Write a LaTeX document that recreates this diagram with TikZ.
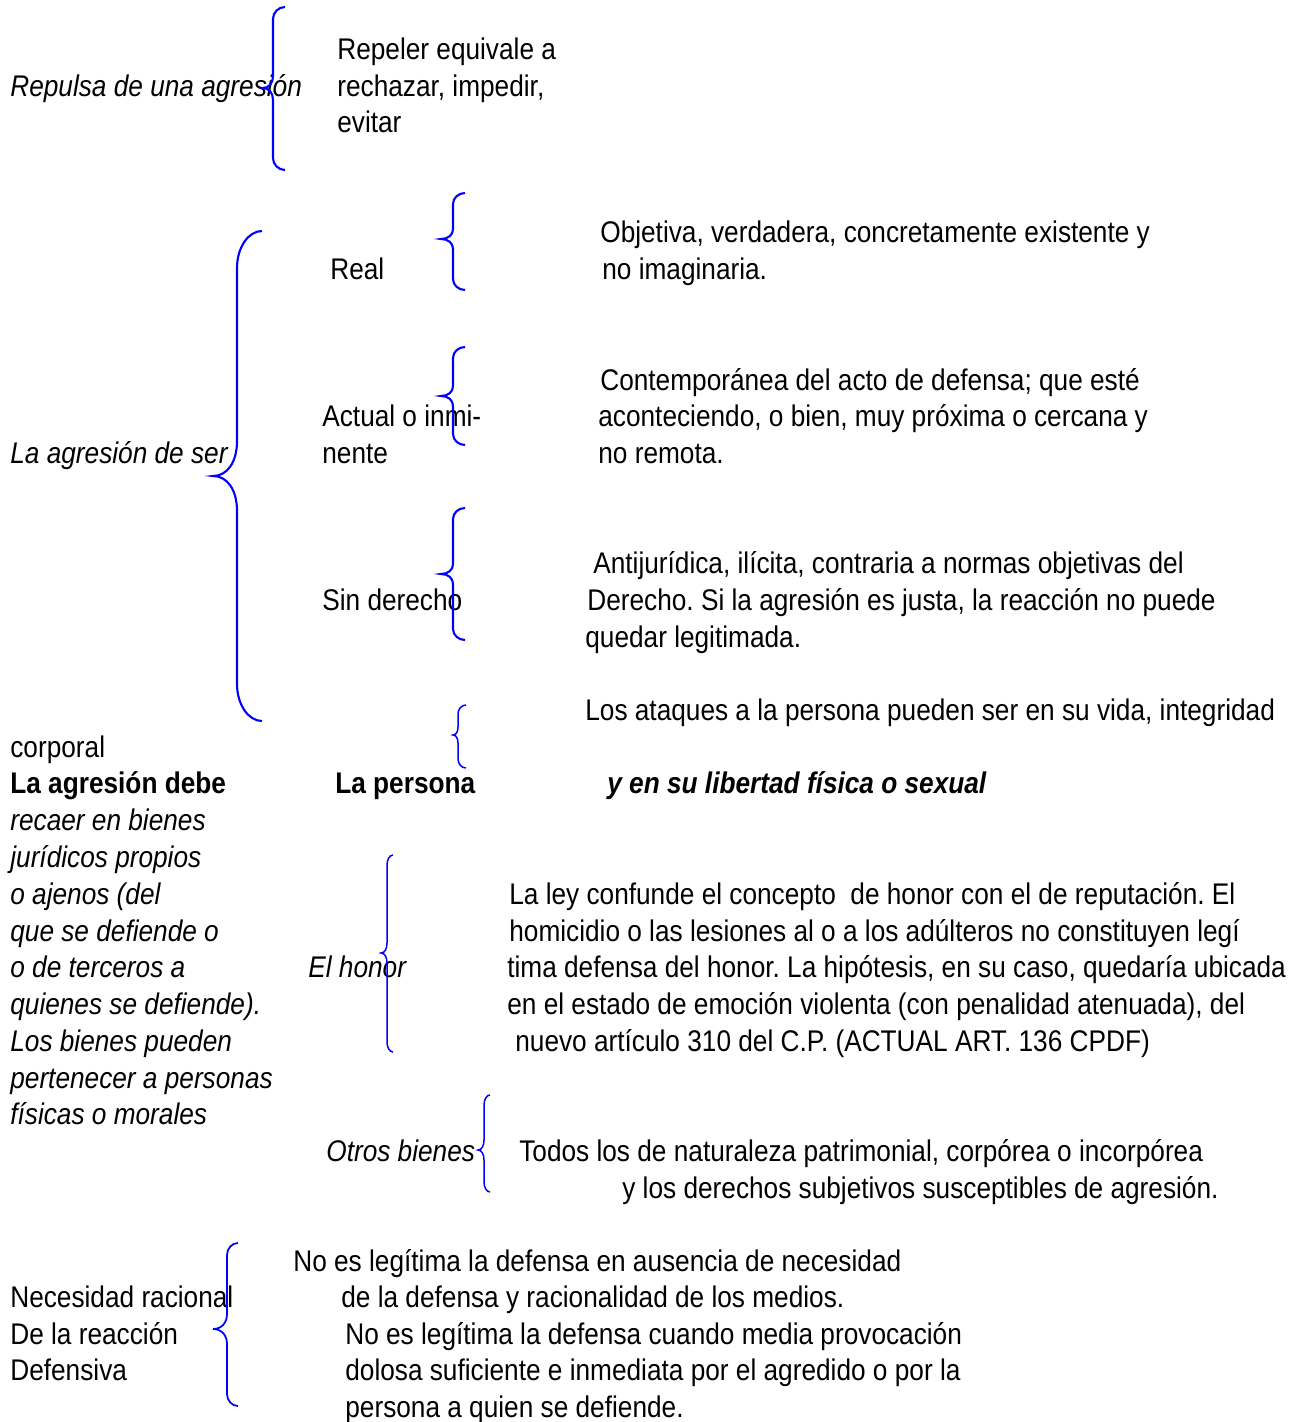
\documentclass[tikz,border=0pt]{standalone}
\usepackage{fontspec}
\setmainfont[FakeStretch=0.878]{Liberation Sans}
\frenchspacing

% brace: [style] x, top, tip, bottom, end width, tip width, end curve, tip curve
\newcommand{\llave}[9][]{%
  \draw[llave,#1] ({#2+#6},#3) .. controls ({#2+0.45*#6},#3) and (#2,{#3+0.45*#8}) .. (#2,{#3+#8})
    -- (#2,{#4-#9}) .. controls (#2,{#4-0.4*#9}) and ({#2-0.4*#7},#4) .. ({#2-#7},#4)
    .. controls ({#2-0.4*#7},#4) and (#2,{#4+0.4*#9}) .. (#2,{#4+#9})
    -- (#2,{#5-#8}) .. controls (#2,{#5-0.45*#8}) and ({#2+0.45*#6},#5) .. ({#2+#6},#5);}

\begin{document}
\begin{tikzpicture}[x=0.02cm,y=-0.02cm,
  txt/.style={anchor=base west,inner sep=0pt,font=\fontsize{17pt}{21pt}\selectfont},
  itx/.style={txt,font=\fontsize{17pt}{21pt}\selectfont\itshape},
  btx/.style={txt,font=\fontsize{17pt}{21pt}\selectfont\bfseries},
  llave/.style={draw=blue,line width=1.2pt},
  fina/.style={line width=0.85pt}]
	\useasboundingbox (0,0) rectangle (1301,1422);

	% repulsa
	\node[itx] (repulsa) at (10,97) {Repulsa de una agresión};
	\node[txt] (rep1) at (337,60) {Repeler equivale a};
	\node[txt] (rep2) at (337,97) {rechazar, impedir,};
	\node[txt] (rep3) at (337,133) {evitar};
	\llave{273}{7}{88}{170}{12}{10}{12}{12}

	% la agresion de ser
	\node[itx] (ser) at (10,463) {La agresión de ser};
	\llave{237}{231}{476}{721}{25}{24}{37}{35}

	\node[txt] (real) at (330,280) {Real};
	\llave{453}{193}{239}{290}{12}{12}{11}{10}
	\node[txt] (real1) at (600,243) {Objetiva, verdadera, concretamente existente y};
	\node[txt] (real2) at (602,280) {no imaginaria.};

	\node[txt] (actual1) at (322,426) {Actual o inmi-};
	\node[txt] (actual2) at (322,463) {nente};
	\llave{453}{347}{396}{445}{12}{12}{11}{10}
	\node[txt] (cont1) at (600,390) {Contemporánea del acto de defensa; que esté};
	\node[txt] (cont2) at (598,426) {aconteciendo, o bien, muy próxima o cercana y};
	\node[txt] (cont3) at (598,463) {no remota.};

	\node[txt] (sinder) at (322,610) {Sin derecho};
	\llave{453}{508}{574}{640}{12}{12}{11}{10}
	\node[txt] (anti1) at (593,573) {Antijurídica, ilícita, contraria a normas objetivas del};
	\node[txt] (anti2) at (587,610) {Derecho. Si la agresión es justa, la reacción no puede};
	\node[txt] (anti3) at (585,647) {quedar legitimada.};

	% bienes juridicos
	\node[txt] (ataq1) at (585,720) {Los ataques a la persona pueden ser en su vida, integridad};
	\node[txt] (ataq2) at (10,757) {corporal};
	\node[btx] (debe) at (10,793) {La agresión debe};
	\node[btx] (persona) at (335,793) {La persona};
	\node[txt,font=\fontsize{17pt}{21pt}\selectfont\bfseries\itshape] (libertad) at (607,793) {y en su libertad física o sexual};
	\llave[fina]{458}{705}{735}{768}{8}{5}{9}{8}

	\node[itx] (bien1) at (10,830) {recaer en bienes};
	\node[itx] (bien2) at (10,867) {jurídicos propios};
	\node[itx] (bien3) at (10,904) {o ajenos (del};
	\node[itx] (bien4) at (10,941) {que se defiende o};
	\node[itx] (bien5) at (10,977) {o de terceros a};
	\node[itx] (bien6) at (10,1014) {quienes se defiende).};
	\node[itx] (bien7) at (10,1051) {Los bienes pueden};
	\node[itx] (bien8) at (10,1088) {pertenecer a personas};
	\node[itx] (bien9) at (10,1124) {físicas o morales};

	\node[itx] (honor) at (308,977) {El honor};
	\llave[fina]{387}{855}{953}{1052}{6}{6}{10}{10}
	\node[txt] (hon1) at (509,904) {La ley confunde el concepto\ \ de honor con el de reputación. El};
	\node[txt] (hon2) at (509,941) {homicidio o las lesiones al o a los adúlteros no constituyen legí};
	\node[txt] (hon3) at (507,977) {tima defensa del honor. La hipótesis, en su caso, quedaría ubicada};
	\node[txt] (hon4) at (507,1014) {en el estado de emoción violenta (con penalidad atenuada), del};
	\node[txt] (hon5) at (515,1051) {nuevo artículo 310 del C.P. (ACTUAL ART. 136 CPDF)};

	\node[itx] (otros) at (326,1161) {Otros bienes};
	\llave[fina]{484}{1095}{1150}{1192}{6}{6}{10}{10}
	\node[txt] (otros1) at (519,1161) {Todos los de naturaleza patrimonial, corpórea o incorpórea};
	\node[txt] (otros2) at (622,1198) {y los derechos subjetivos susceptibles de agresión.};

	% necesidad racional
	\node[txt] (nec1) at (10,1307) {Necesidad racional};
	\node[txt] (nec2) at (10,1344) {De la reacción};
	\node[txt] (nec3) at (10,1380) {Defensiva};
	\llave[line width=1pt]{227}{1243}{1329}{1406}{11}{14}{12}{15}
	\node[txt] (leg1) at (293,1271) {No es legítima la defensa en ausencia de necesidad};
	\node[txt] (leg2) at (341,1307) {de la defensa y racionalidad de los medios.};
	\node[txt] (leg3) at (345,1344) {No es legítima la defensa cuando media provocación};
	\node[txt] (leg4) at (345,1380) {dolosa suficiente e inmediata por el agredido o por la};
	\node[txt] (leg5) at (345,1417) {persona a quien se defiende.};
\end{tikzpicture}
\end{document}
